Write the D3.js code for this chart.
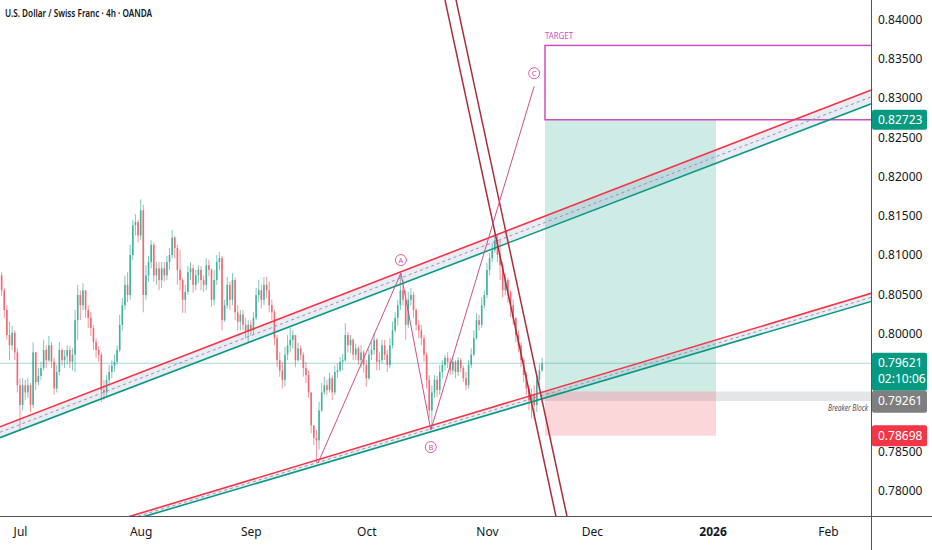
<!DOCTYPE html>
<html>
<head>
<meta charset="utf-8">
<script src="https://cdnjs.cloudflare.com/ajax/libs/d3/7.8.5/d3.min.js"></script>
<style>
  body { margin: 0; background: #fff; }
  svg { display: block; font-family: "Noto Sans", Roboto, sans-serif; }
</style>
</head>
<body>
<svg id="chart" width="932" height="550"></svg>
<script>
// USD/CHF 4h (OANDA), drawn as half-day bars, first bar on 2025-06-25
var startDate = "2025-06-25";
var firstOpen = 0.8080;

var closes = [
  0.8074,0.8055,0.8030,0.7998,0.7985,0.8001,0.7976,0.7934,0.7909,0.7934,
  0.7925,0.7934,0.7909,0.7976,0.7938,0.7946,0.7956,0.7979,0.7966,0.7985,
  0.7964,0.7930,0.7951,0.7979,0.7966,0.7971,0.7979,0.7964,0.7973,0.8017,
  0.8049,0.8036,0.8055,0.8030,0.8020,0.8007,0.7989,0.7979,0.7973,0.7928,
  0.7925,0.7941,0.7951,0.7959,0.7964,0.7979,0.8011,0.8036,0.8062,0.8049,
  0.8100,0.8138,0.8142,0.8125,0.8157,0.8049,0.8074,0.8091,0.8113,0.8074,
  0.8083,0.8068,0.8083,0.8074,0.8091,0.8100,0.8122,0.8109,0.8081,0.8068,
  0.8043,0.8053,0.8078,0.8083,0.8062,0.8074,0.8081,0.8068,0.8062,0.8087,
  0.8081,0.8043,0.8068,0.8091,0.8096,0.8017,0.8036,0.8062,0.8043,0.8068,
  0.8027,0.8015,0.8024,0.8011,0.8002,0.8011,0.8004,0.8020,0.8049,0.8055,
  0.8043,0.8062,0.8055,0.8036,0.8027,0.7994,0.7966,0.7953,0.7941,0.7973,
  0.7985,0.7992,0.7998,0.7966,0.7981,0.7973,0.7956,0.7947,0.7925,0.7883,
  0.7867,0.7864,0.7902,0.7925,0.7934,0.7928,0.7943,0.7925,0.7951,0.7953,
  0.7964,0.7966,0.7998,0.7985,0.7992,0.7973,0.7981,0.7966,0.7976,0.7960,
  0.7943,0.7973,0.7979,0.7992,0.7964,0.7966,0.7985,0.7973,0.7960,0.7985,
  0.8004,0.8020,0.8036,0.8055,0.8043,0.8011,0.8043,0.8049,0.8030,0.8011,
  0.8004,0.7994,0.7973,0.7941,0.7902,0.7925,0.7941,0.7928,0.7951,0.7960,
  0.7969,0.7964,0.7953,0.7964,0.7951,0.7966,0.7956,0.7943,0.7934,0.7960,
  0.7973,0.7994,0.8017,0.8011,0.8036,0.8049,0.8081,0.8096,0.8106,0.8119,
  0.8100,0.8087,0.8055,0.8068,0.8053,0.8036,0.8020,0.7998,0.7985,0.7966,
  0.7947,0.7930,0.7915,0.7922,0.7909,0.7941,0.7953,0.79621
];
var highs = [
  0.8083,0.8078,0.8058,0.8036,0.8015,0.8010,0.8004,0.7981,0.7943,0.7943,
  0.7941,0.7943,0.7937,0.7989,0.7973,0.7956,0.7964,0.7992,0.7985,0.7997,
  0.7989,0.7969,0.7960,0.7989,0.7981,0.7979,0.7985,0.7984,0.7981,0.8030,
  0.8062,0.8055,0.8064,0.8053,0.8036,0.8027,0.8011,0.7994,0.7984,0.7976,
  0.7941,0.7947,0.7960,0.7966,0.7973,0.7985,0.8024,0.8045,0.8074,0.8078,
  0.8113,0.8145,0.8152,0.8145,0.8171,0.8164,0.8087,0.8099,0.8119,0.8116,
  0.8091,0.8091,0.8091,0.8091,0.8099,0.8109,0.8132,0.8124,0.8113,0.8106,
  0.8071,0.8062,0.8086,0.8091,0.8087,0.8081,0.8087,0.8086,0.8074,0.8096,
  0.8094,0.8083,0.8081,0.8100,0.8104,0.8099,0.8043,0.8072,0.8066,0.8077,
  0.8071,0.8036,0.8030,0.8030,0.8020,0.8017,0.8017,0.8027,0.8058,0.8068,
  0.8062,0.8072,0.8072,0.8066,0.8043,0.8030,0.7998,0.7976,0.7964,0.7983,
  0.7998,0.8007,0.8004,0.7998,0.7988,0.7985,0.7976,0.7964,0.7953,0.7922,
  0.7883,0.7877,0.7913,0.7937,0.7945,0.7941,0.7950,0.7947,0.7959,0.7962,
  0.7970,0.7974,0.8013,0.8002,0.7998,0.7994,0.7987,0.7984,0.7985,0.7979,
  0.7966,0.7981,0.7989,0.8001,0.7994,0.7976,0.7992,0.7992,0.7979,0.7994,
  0.8015,0.8027,0.8043,0.8077,0.8068,0.8055,0.8053,0.8058,0.8053,0.8032,
  0.8017,0.8011,0.7998,0.7976,0.7947,0.7934,0.7947,0.7946,0.7960,0.7966,
  0.7973,0.7976,0.7969,0.7969,0.7966,0.7970,0.7969,0.7959,0.7951,0.7966,
  0.7981,0.8004,0.8026,0.8024,0.8046,0.8055,0.8090,0.8103,0.8115,0.8128,
  0.8125,0.8119,0.8091,0.8077,0.8071,0.8055,0.8043,0.8020,0.8004,0.7989,
  0.7969,0.7951,0.7934,0.7930,0.7934,0.7947,0.7961,0.7969
];
var lows = [
  0.8062,0.8048,0.8020,0.7992,0.7966,0.7979,0.7966,0.7925,0.7877,0.7902,
  0.7915,0.7918,0.7900,0.7905,0.7928,0.7934,0.7941,0.7953,0.7956,0.7964,
  0.7956,0.7922,0.7925,0.7947,0.7959,0.7956,0.7961,0.7956,0.7953,0.7951,
  0.7992,0.8017,0.8030,0.8020,0.8007,0.7997,0.7979,0.7969,0.7964,0.7913,
  0.7915,0.7918,0.7934,0.7943,0.7951,0.7960,0.7976,0.8004,0.8030,0.8040,
  0.8043,0.8094,0.8125,0.8116,0.8119,0.8027,0.8043,0.8066,0.8083,0.8066,
  0.8062,0.8055,0.8058,0.8066,0.8068,0.8081,0.8096,0.8096,0.8062,0.8055,
  0.8026,0.8026,0.8049,0.8068,0.8052,0.8055,0.8064,0.8055,0.8053,0.8055,
  0.8073,0.8034,0.8036,0.8062,0.8081,0.8004,0.8015,0.8032,0.8030,0.8036,
  0.8017,0.8004,0.8004,0.8004,0.7994,0.7988,0.7997,0.7999,0.8017,0.8040,
  0.8032,0.8036,0.8045,0.8027,0.8017,0.7985,0.7957,0.7945,0.7930,0.7933,
  0.7966,0.7976,0.7981,0.7957,0.7964,0.7966,0.7945,0.7937,0.7918,0.7873,
  0.7858,0.7836,0.7852,0.7900,0.7922,0.7922,0.7925,0.7915,0.7922,0.7943,
  0.7951,0.7953,0.7964,0.7976,0.7975,0.7966,0.7966,0.7960,0.7956,0.7950,
  0.7932,0.7941,0.7966,0.7973,0.7953,0.7953,0.7962,0.7966,0.7951,0.7956,
  0.7981,0.8001,0.8010,0.8030,0.8036,0.7992,0.8007,0.8036,0.8020,0.8004,
  0.7994,0.7985,0.7964,0.7930,0.7892,0.7880,0.7918,0.7919,0.7922,0.7943,
  0.7953,0.7956,0.7947,0.7948,0.7943,0.7946,0.7951,0.7938,0.7928,0.7930,
  0.7956,0.7971,0.7992,0.8004,0.8007,0.8032,0.8045,0.8074,0.8091,0.8103,
  0.8091,0.8068,0.8046,0.8049,0.8039,0.8021,0.8011,0.7989,0.7976,0.7957,
  0.7938,0.7922,0.7902,0.7892,0.7890,0.7900,0.7934,0.7951
];

var priceTicks = [0.780,0.785,0.790,0.795,0.800,0.805,0.810,0.815,0.820,0.825,0.830,0.835,0.840];
var timeTickDates = ["2025-07-01","2025-08-01","2025-09-01","2025-10-01","2025-11-03","2025-12-01","2026-01-01","2026-02-02"];
var timeTickLabels = ["Jul","Aug","Sep","Oct","Nov","Dec","2026","Feb"];

// drawings, anchors as [trading-day index, price]
var upperRed = [[4, 0.7891], [93, 0.8121]];
var upperGreen = [[4, 0.7877], [93, 0.8105]];
var lowerRed = [[4, 0.7725], [93, 0.7904]];
var lowerGreen = [[4, 0.7720], [93, 0.7896]];
var steepLines = [
  [[85.0, 0.8425], [106.15, 0.7767]],
  [[87.1, 0.8425], [108.25, 0.7767]]
];
var abcPoints = [[60.8, 0.7835], [76.6, 0.8077], [82.3, 0.7877], [102.0, 0.8315]];
var abcLabels = ["A", "B", "C"];

var lastPrice = 0.79621, countdown = "02:10:06";
var targetPrice = 0.82723, targetTop = 0.8367;
var entryPrice = 0.79261, stopPrice = 0.78698;
var positionStart = 104.06, positionEnd = 136.65;
var breakerTop = 0.79261, breakerBottom = 0.7914, breakerStart = 103.5;

var upColor = "#089981", downColor = "#f23645", pink = "#cc4fbf";
var plotR = 871, plotB = 516;

function tradingDays(from, count) {
  var out = [], d = new Date(from + "T00:00:00Z");
  while (out.length < count) {
    var wd = d.getUTCDay();
    if (wd > 0 && wd < 6) out.push(d.toISOString().slice(0, 10));
    d.setUTCDate(d.getUTCDate() + 1);
  }
  return out;
}
var days = tradingDays(startDate, 220);
function dayIndex(s) { return days.indexOf(s); }

var x = d3.scaleLinear()
  .domain([dayIndex("2025-07-01"), dayIndex("2026-02-02")])
  .range([20, 828]);
var y = d3.scaleLinear().domain([0.78, 0.84]).range([490.5, 19.5]);

var svg = d3.select("#chart");
svg.append("rect").attr("width", 932).attr("height", 550).attr("fill", "#fff");
svg.append("clipPath").attr("id", "plot")
  .append("rect").attr("x", 0).attr("y", 0).attr("width", plotR).attr("height", plotB);

var plot = svg.append("g").attr("clip-path", "url(#plot)");
var tMin = x.invert(0), tMax = x.invert(plotR + 40);

function extend(a, b, t0, t1) {
  var s = (b[1] - a[1]) / (b[0] - a[0]);
  return [[t0, a[1] + s * (t0 - a[0])], [t1, a[1] + s * (t1 - a[0])]];
}
var line = d3.line().x(function(d){ return x(d[0]); }).y(function(d){ return y(d[1]); });

// long position zones
plot.append("rect")
  .attr("x", x(positionStart)).attr("width", x(positionEnd) - x(positionStart))
  .attr("y", y(targetPrice)).attr("height", y(entryPrice) - y(targetPrice))
  .attr("fill", "rgba(8,153,129,0.2)");
plot.append("rect")
  .attr("x", x(positionStart)).attr("width", x(positionEnd) - x(positionStart))
  .attr("y", y(entryPrice)).attr("height", y(stopPrice) - y(entryPrice))
  .attr("fill", "rgba(242,54,69,0.2)");

// breaker block
plot.append("rect")
  .attr("x", x(breakerStart)).attr("width", x(tMax) - x(breakerStart))
  .attr("y", y(breakerTop)).attr("height", y(breakerBottom) - y(breakerTop))
  .attr("fill", "rgba(120,123,134,0.2)");

// target box
plot.append("rect")
  .attr("x", x(positionStart)).attr("width", x(tMax) - x(positionStart))
  .attr("y", y(targetTop)).attr("height", y(targetPrice) - y(targetTop))
  .attr("fill", "none").attr("stroke", pink).attr("stroke-width", 1.5);
plot.append("text")
  .attr("x", x(positionStart)).attr("y", y(targetTop) - 6)
  .attr("font-size", 8).attr("fill", pink)
  .attr("textLength", 28).attr("lengthAdjust", "spacingAndGlyphs")
  .text("TARGET");

// current price line
plot.append("line")
  .attr("x1", 0).attr("x2", plotR)
  .attr("y1", y(lastPrice)).attr("y2", y(lastPrice))
  .attr("stroke", "rgba(8,153,129,0.35)").attr("stroke-width", 1);

// candles
var bars = closes.map(function(c, i) {
  var o = i ? closes[i - 1] : firstOpen;
  return { t: i / 2, o: o, c: c, h: Math.max(highs[i], o, c), l: Math.min(lows[i], o, c) };
});
var candle = plot.append("g").selectAll("g").data(bars).enter().append("g")
  .attr("opacity", 0.75);
candle.append("line")
  .attr("x1", function(d){ return x(d.t); }).attr("x2", function(d){ return x(d.t); })
  .attr("y1", function(d){ return y(d.h); }).attr("y2", function(d){ return y(d.l); })
  .attr("stroke", function(d){ return d.c >= d.o ? upColor : downColor; })
  .attr("stroke-width", 0.7);
candle.append("rect")
  .attr("x", function(d){ return x(d.t) - 0.8; }).attr("width", 1.6)
  .attr("y", function(d){ return y(Math.max(d.o, d.c)); })
  .attr("height", function(d){ return Math.max(0.8, Math.abs(y(d.o) - y(d.c))); })
  .attr("fill", function(d){ return d.c >= d.o ? upColor : downColor; });

// channels
function channel(red, green) {
  var r = extend(red[0], red[1], tMin, tMax);
  var g = extend(green[0], green[1], tMin, tMax);
  plot.append("path")
    .attr("d", line([r[0], r[1], g[1], g[0]]) + "Z")
    .attr("fill", "rgba(100,120,180,0.14)");
  plot.append("path")
    .attr("d", line([[tMin, (r[0][1] + g[0][1]) / 2], [tMax, (r[1][1] + g[1][1]) / 2]]))
    .attr("stroke", "#9598a1").attr("stroke-width", 1).attr("stroke-dasharray", "3,3").attr("fill", "none");
  plot.append("path").attr("d", line(r)).attr("stroke", downColor).attr("stroke-width", 1.6).attr("fill", "none");
  plot.append("path").attr("d", line(g)).attr("stroke", upColor).attr("stroke-width", 1.6).attr("fill", "none");
}
channel(upperRed, upperGreen);
channel(lowerRed, lowerGreen);

steepLines.forEach(function(l) {
  plot.append("path").attr("d", line(extend(l[0], l[1], 80, 112)))
    .attr("stroke", "#a92f3a").attr("stroke-width", 1.5).attr("fill", "none");
});

// ABC zigzag
plot.append("path").attr("d", line(abcPoints))
  .attr("stroke", "#cf4f86").attr("stroke-width", 1).attr("fill", "none");
abcLabels.forEach(function(lab, i) {
  var p = abcPoints[i + 1];
  var cy = y(p[1]) + (lab === "B" ? 17 : -13);
  var g = plot.append("g").attr("transform", "translate(" + x(p[0]) + "," + cy + ")");
  g.append("circle").attr("r", 5.5).attr("fill", "#fff").attr("stroke", "#d94c9a").attr("stroke-width", 0.9);
  g.append("text").attr("text-anchor", "middle").attr("dy", "0.35em")
    .attr("font-size", 7.5).attr("fill", "#d94c9a").text(lab);
});

plot.append("text")
  .attr("x", plotR - 3).attr("y", y(breakerBottom) + 10)
  .attr("text-anchor", "end").attr("font-size", 8).attr("font-style", "italic")
  .attr("fill", "#50535e").attr("textLength", 40).attr("lengthAdjust", "spacingAndGlyphs")
  .text("Breaker Block");

// price tags (extents first, so covered tick labels can be left out)
var fmt = d3.format(".5f");
var lastTop = y(lastPrice) - 10.5;
var tags = [
  { top: y(targetPrice) - 10, h: 20, fill: upColor, lines: [fmt(targetPrice)] },
  { top: lastTop, h: 38, fill: upColor, lines: [fmt(lastPrice), countdown] },
  { top: Math.max(y(entryPrice) - 11, lastTop + 38), h: 22, fill: "#7f7f7f", lines: [fmt(entryPrice)] },
  { top: y(stopPrice) - 10.5, h: 21, fill: "#f23645", lines: [fmt(stopPrice)] }
];
var freeTicks = priceTicks.filter(function(p) {
  var py = y(p);
  return !tags.some(function(t){ return py + 4 > t.top && py - 4 < t.top + t.h; });
});

// axes
var yAxis = d3.axisRight(y).tickValues(freeTicks).tickFormat(fmt).tickSize(0).tickPadding(7);
var gy = svg.append("g").attr("transform", "translate(" + plotR + ",0)").call(yAxis);
gy.select(".domain").remove();
gy.selectAll("text").attr("font-size", 12).attr("fill", "#131722").attr("font-family", "Noto Sans, sans-serif");

var xAxis = d3.axisBottom(x)
  .tickValues(timeTickDates.map(dayIndex))
  .tickFormat(function(d, i){ return timeTickLabels[i]; })
  .tickSize(0).tickPadding(11);
var gx = svg.append("g").attr("transform", "translate(0," + plotB + ")").call(xAxis);
gx.select(".domain").remove();
gx.selectAll("text").attr("font-size", 12).attr("fill", "#131722").attr("font-family", "Noto Sans, sans-serif")
  .attr("font-weight", function(d, i){ return timeTickLabels[i] === "2026" ? "bold" : null; });

svg.append("line").attr("x1", plotR + 0.5).attr("x2", plotR + 0.5).attr("y1", 0).attr("y2", 550)
  .attr("stroke", "#50535e").attr("stroke-width", 1);
svg.append("line").attr("x1", 0).attr("x2", 932).attr("y1", plotB + 0.5).attr("y2", plotB + 0.5)
  .attr("stroke", "#50535e").attr("stroke-width", 1);

tags.forEach(function(t) {
  svg.append("rect").attr("x", plotR + 1).attr("y", t.top).attr("width", 55).attr("height", t.h)
    .attr("rx", 2).attr("fill", t.fill);
  t.lines.forEach(function(s, i) {
    svg.append("text").attr("x", plotR + 7).attr("y", t.top + 10.5 + i * 16).attr("dy", "0.35em")
      .attr("font-size", 12).attr("fill", "#fff").text(s);
  });
});

// title
svg.append("text").attr("x", 5).attr("y", 17)
  .attr("font-size", 10.5).attr("font-weight", 600).attr("fill", "#131722")
  .attr("textLength", 147).attr("lengthAdjust", "spacingAndGlyphs")
  .text("U.S. Dollar / Swiss Franc \u00b7 4h \u00b7 OANDA");
</script>
</body>
</html>
